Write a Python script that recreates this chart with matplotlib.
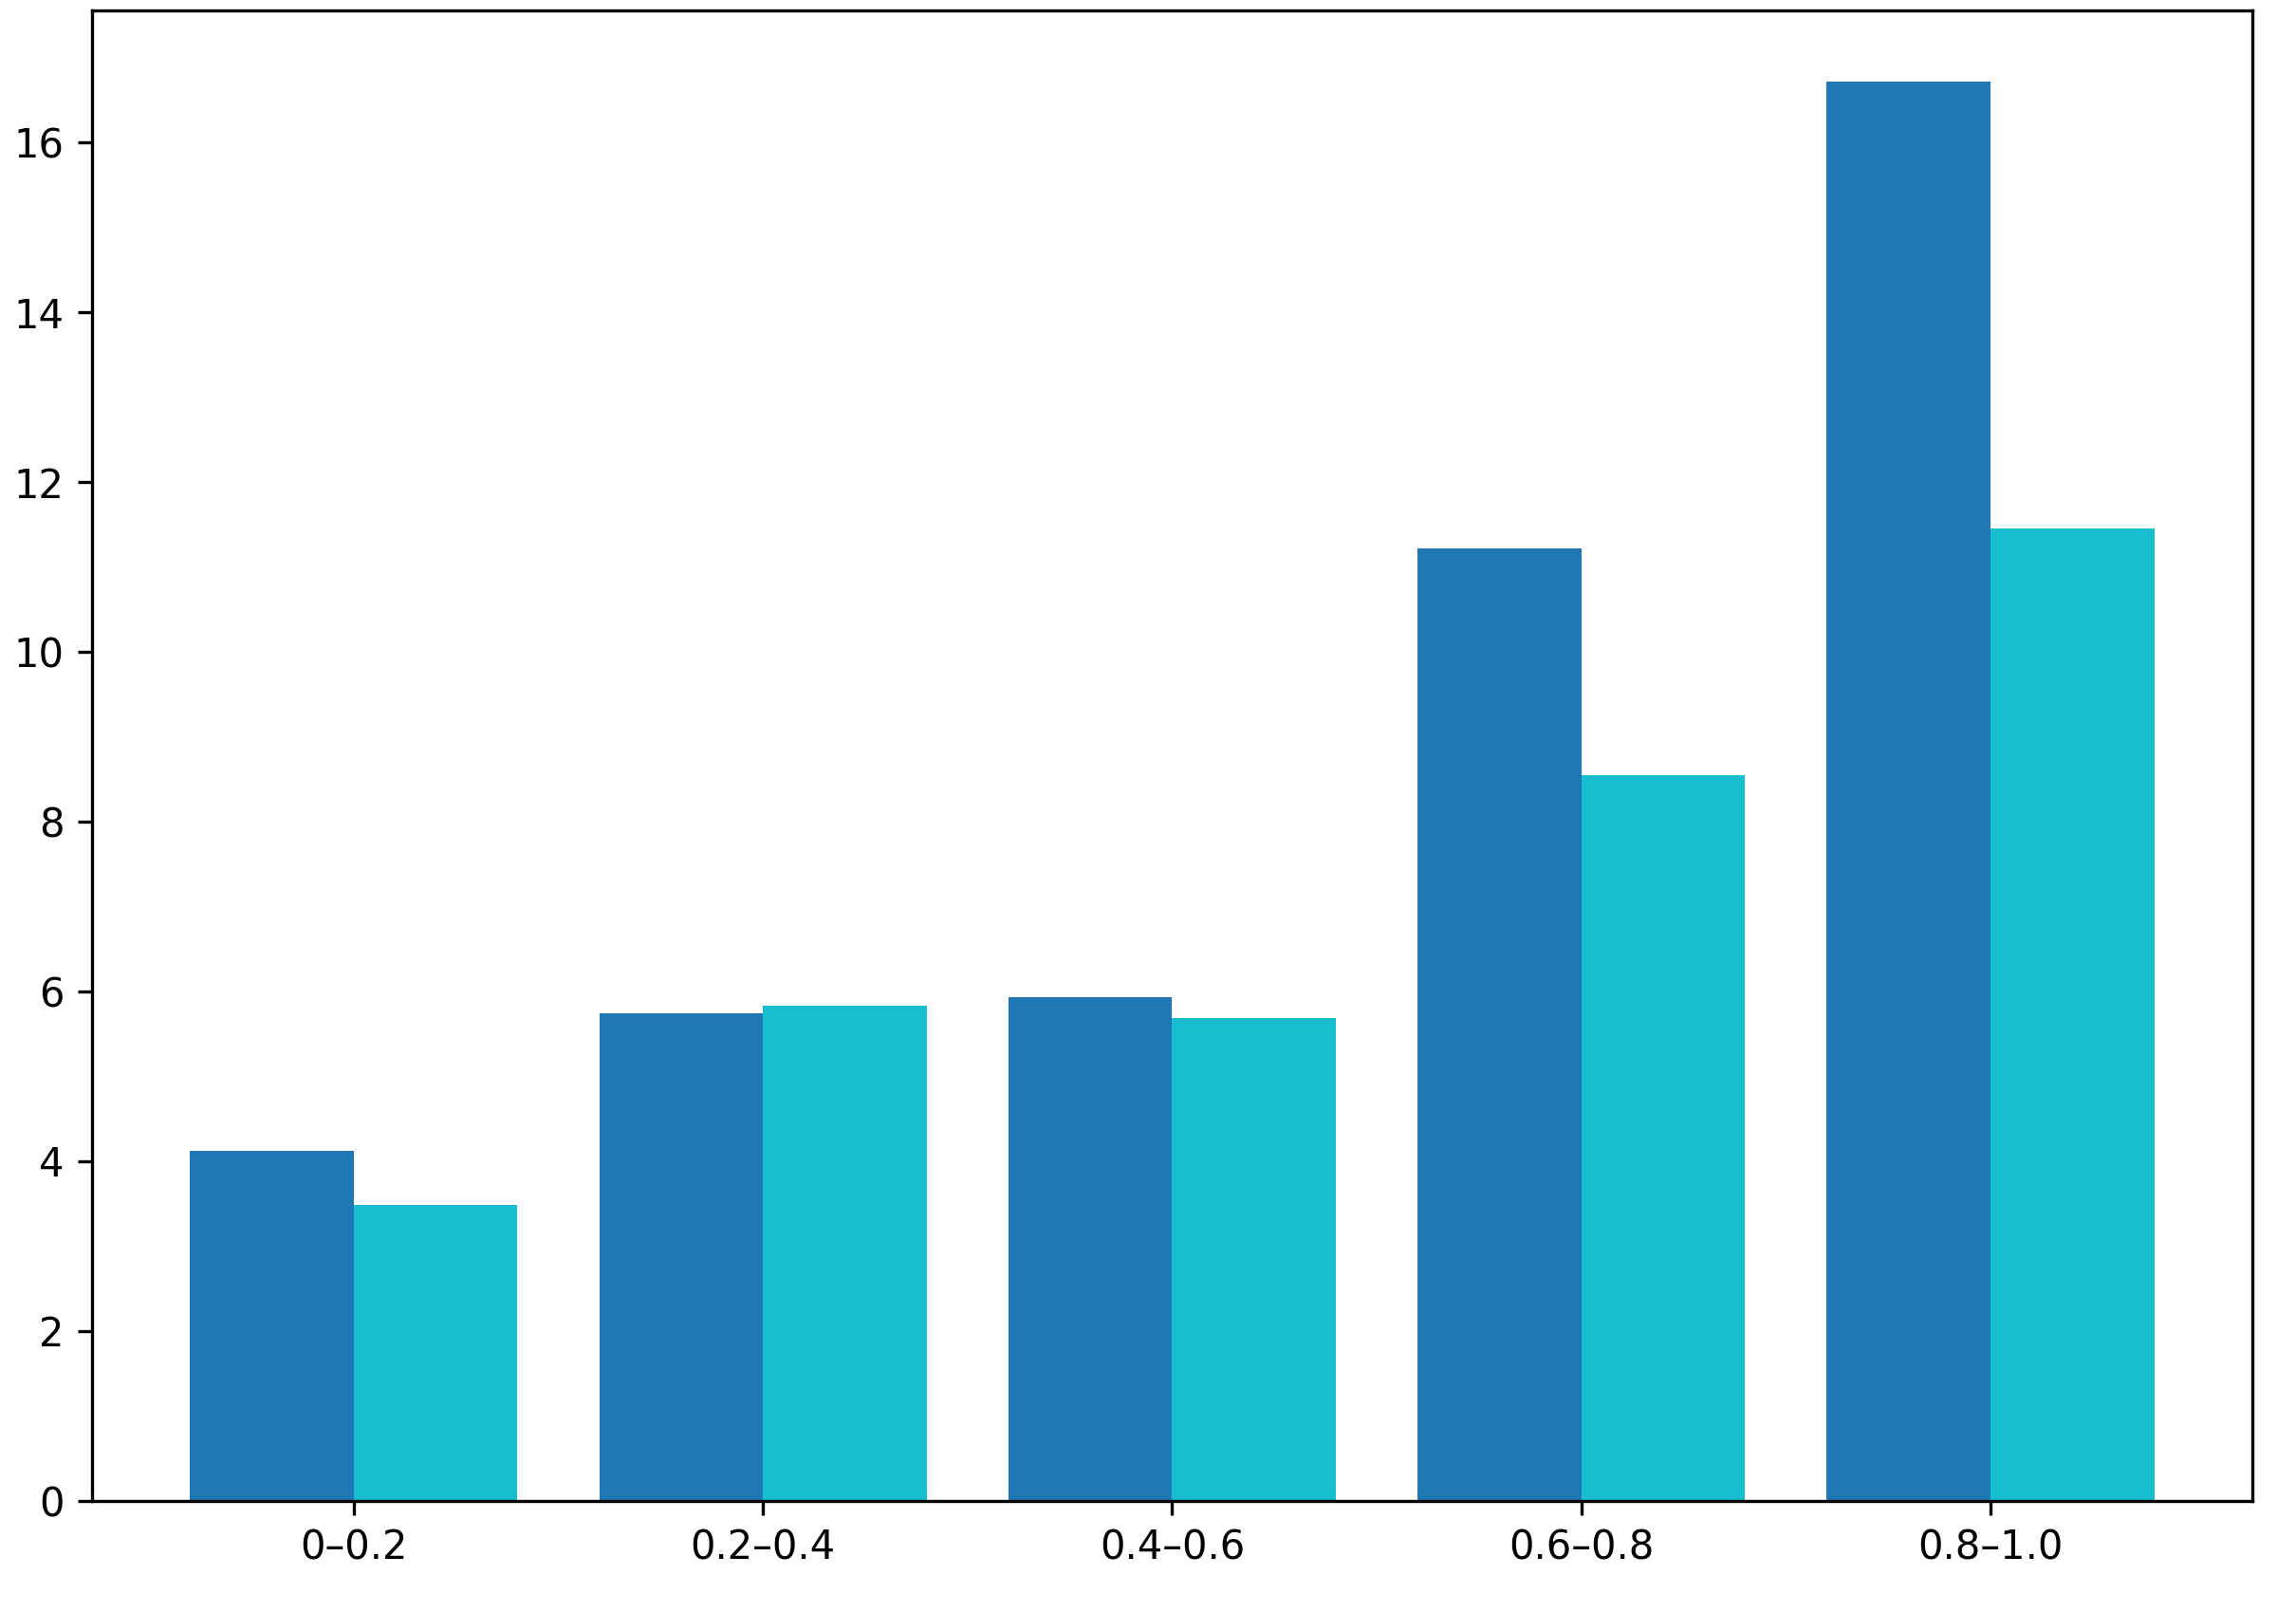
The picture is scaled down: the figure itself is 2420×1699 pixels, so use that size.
import numpy as np
import matplotlib
matplotlib.use("Agg")
import matplotlib.pyplot as plt

# intervalos e valores das duas séries
categorias = ["0–0.2", "0.2–0.4", "0.4–0.6", "0.6–0.8", "0.8–1.0"]
serie_a = [4.12, 5.74, 5.93, 11.22, 16.72]
serie_b = [3.48, 5.83, 5.69, 8.55, 11.45]

largura = 0.4
x = np.arange(len(categorias))

fig, ax = plt.subplots(figsize=(2420 / 300, 1699 / 300), dpi=300)

ax.bar(x - largura / 2, serie_a, width=largura, color="tab:blue")
ax.bar(x + largura / 2, serie_b, width=largura, color="tab:cyan")

ax.set_xticks(x)
ax.set_xticklabels(categorias)

fig.subplots_adjust(left=0.040, right=0.981, top=0.9935, bottom=0.069)
fig.savefig("out.png", dpi=300)
